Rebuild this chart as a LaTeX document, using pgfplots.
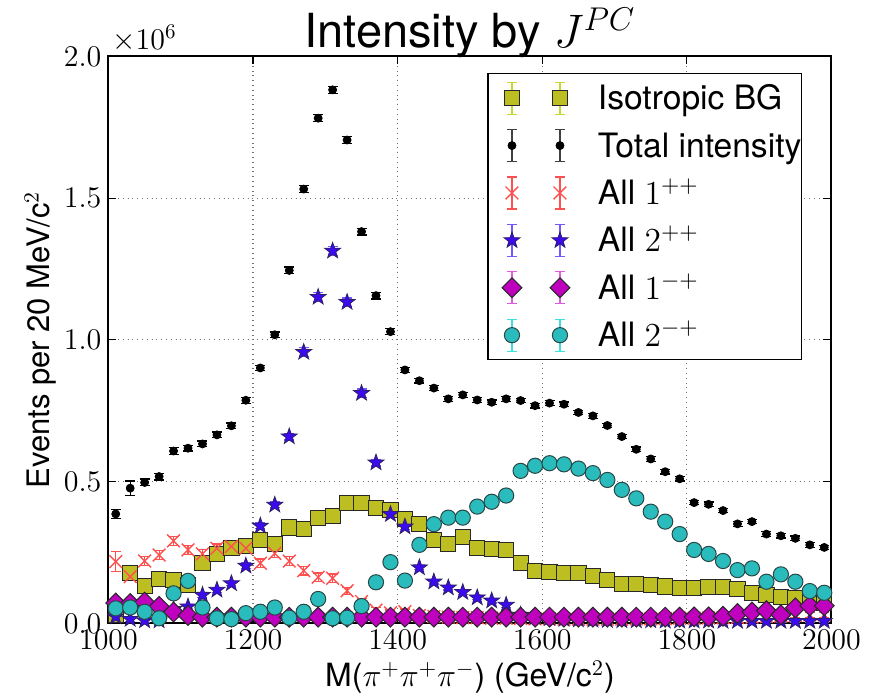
\RequirePackage{fix-cm}
\documentclass[border=0pt]{standalone}
\usepackage[no-math]{fontspec}
\setmainfont{TeX Gyre Heros}
\usepackage{pgfplots}
\usepackage{pgfplotstable}
\pgfplotsset{compat=1.18}

\definecolor{bgfill}{RGB}{188,190,34}
\definecolor{bgerr}{RGB}{200,212,50}
\definecolor{onepp}{RGB}{255,80,80}
\definecolor{twopp}{RGB}{60,10,240}
\definecolor{twopperr}{RGB}{110,90,255}
\definecolor{onemp}{RGB}{191,0,191}
\definecolor{onemperr}{RGB}{225,90,225}
\definecolor{twomp}{RGB}{42,188,188}
\definecolor{twomperr}{RGB}{60,222,222}
\definecolor{edge}{RGB}{40,40,40}

\pgfdeclareplotmark{fstar}{%
  \pgfpathmoveto{\pgfpointpolar{90}{\pgfplotmarksize}}%
  \pgfpathlineto{\pgfpointpolar{126}{0.4\pgfplotmarksize}}%
  \pgfpathlineto{\pgfpointpolar{162}{\pgfplotmarksize}}%
  \pgfpathlineto{\pgfpointpolar{198}{0.4\pgfplotmarksize}}%
  \pgfpathlineto{\pgfpointpolar{234}{\pgfplotmarksize}}%
  \pgfpathlineto{\pgfpointpolar{270}{0.4\pgfplotmarksize}}%
  \pgfpathlineto{\pgfpointpolar{306}{\pgfplotmarksize}}%
  \pgfpathlineto{\pgfpointpolar{342}{0.4\pgfplotmarksize}}%
  \pgfpathlineto{\pgfpointpolar{18}{\pgfplotmarksize}}%
  \pgfpathlineto{\pgfpointpolar{54}{0.4\pgfplotmarksize}}%
  \pgfpathclose
  \pgfusepathqfillstroke
}

\tikzset{
  bgmark/.style={color=bgerr, mark=square*, mark size=3.8pt, mark options={fill=bgfill, draw=edge, line width=0.5pt}},
  totmark/.style={color=black, mark=*, mark size=2pt, mark options={fill=black, draw=black, line width=0.4pt}},
  oneppmark/.style={color=onepp, mark=x, mark size=4.5pt, mark options={line width=0.7pt}},
  twoppmark/.style={color=twopperr, mark=fstar, mark size=4.2pt, mark options={fill=twopp, draw=edge!70!twopp, line width=0.4pt}},
  onempmark/.style={color=onemperr, mark=square*, mark size=3.5pt, mark options={rotate=45, fill=onemp, draw=edge, line width=0.5pt}},
  twompmark/.style={color=twomperr, mark=*, mark size=3.8pt, mark options={fill=twomp, draw=edge!80!twomp, line width=0.5pt}},
}

\pgfplotsset{
  errleg/.style 2 args={legend image code/.code={
     \path[draw=none, fill=none] (-12pt,-11.85pt) rectangle (43pt,11.85pt);
     \draw[#1, line width=0.6pt] (0pt,-8pt)--(0pt,8pt) (-2.5pt,-8pt)--(2.5pt,-8pt) (-2.5pt,8pt)--(2.5pt,8pt)
        (24pt,-8pt)--(24pt,8pt) (21.5pt,-8pt)--(26.5pt,-8pt) (21.5pt,8pt)--(26.5pt,8pt);
     \draw[#2] plot[only marks] coordinates {(0pt,0pt) (24pt,0pt)};
  }},
  myerr/.style={error bars/.cd, y dir=both, y explicit, error bar style={line width=0.6pt}, error mark options={rotate=90, mark size=2.5pt, line width=0.6pt}},
}

% values in units of 10^6 events
\pgfplotstableread{
x y e
1010 0.030 0.010
1030 0.177 0.010
1050 0.133 0.010
1070 0.156 0.010
1090 0.152 0.010
1110 0.135 0.010
1130 0.212 0.010
1150 0.245 0.010
1170 0.265 0.010
1190 0.274 0.010
1210 0.294 0.010
1230 0.280 0.010
1250 0.338 0.010
1270 0.333 0.010
1290 0.373 0.010
1310 0.378 0.010
1330 0.424 0.010
1350 0.424 0.010
1370 0.408 0.010
1390 0.400 0.010
1410 0.367 0.010
1430 0.351 0.010
1450 0.294 0.010
1470 0.280 0.010
1490 0.304 0.010
1510 0.265 0.010
1530 0.263 0.010
1550 0.259 0.010
1570 0.212 0.010
1590 0.186 0.010
1610 0.180 0.010
1630 0.179 0.010
1650 0.179 0.010
1670 0.167 0.010
1690 0.153 0.010
1710 0.139 0.010
1730 0.139 0.010
1750 0.135 0.010
1770 0.130 0.010
1790 0.124 0.010
1810 0.124 0.010
1830 0.127 0.010
1850 0.127 0.010
1870 0.120 0.010
1890 0.106 0.010
1910 0.100 0.010
1930 0.094 0.010
1950 0.088 0.010
1970 0.075 0.010
1990 0.072 0.010
}\bgtab

\pgfplotstableread{
x y e
1010 0.386 0.015
1030 0.477 0.025
1050 0.497 0.012
1070 0.518 0.012
1090 0.608 0.012
1110 0.618 0.010
1130 0.633 0.010
1150 0.665 0.010
1170 0.697 0.010
1190 0.787 0.010
1210 0.901 0.010
1230 1.018 0.010
1250 1.245 0.012
1270 1.532 0.012
1290 1.782 0.012
1310 1.882 0.012
1330 1.705 0.012
1350 1.382 0.012
1370 1.156 0.012
1390 1.029 0.010
1410 0.894 0.008
1430 0.856 0.008
1450 0.830 0.008
1470 0.792 0.008
1490 0.806 0.008
1510 0.788 0.008
1530 0.780 0.008
1550 0.792 0.008
1570 0.786 0.008
1590 0.768 0.008
1610 0.777 0.008
1630 0.773 0.008
1650 0.744 0.008
1670 0.732 0.008
1690 0.698 0.008
1710 0.659 0.008
1730 0.614 0.008
1750 0.580 0.008
1770 0.535 0.008
1790 0.510 0.008
1810 0.426 0.008
1830 0.420 0.008
1850 0.398 0.008
1870 0.351 0.008
1890 0.359 0.008
1910 0.315 0.008
1930 0.309 0.008
1950 0.300 0.008
1970 0.277 0.008
1990 0.268 0.008
}\tottab

\pgfplotstableread{
x y e
1010 0.218 0.035
1030 0.165 0.015
1050 0.220 0.015
1070 0.241 0.015
1090 0.291 0.015
1110 0.259 0.015
1130 0.245 0.015
1150 0.265 0.015
1170 0.271 0.015
1190 0.265 0.015
1210 0.212 0.015
1230 0.247 0.015
1250 0.220 0.015
1270 0.186 0.015
1290 0.163 0.015
1310 0.159 0.015
1330 0.115 0.012
1350 0.077 0.012
1370 0.047 0.010
1390 0.037 0.010
1410 0.041 0.010
1430 0.028 0.008
1450 0.024 0.008
1470 0.022 0.008
1490 0.020 0.008
1510 0.020 0.008
1530 0.018 0.008
1550 0.018 0.008
1570 0.017 0.008
1590 0.016 0.008
1610 0.016 0.008
1630 0.015 0.008
1650 0.015 0.008
1670 0.015 0.008
1690 0.015 0.008
1710 0.015 0.008
1730 0.016 0.008
1750 0.016 0.008
1770 0.017 0.008
1790 0.018 0.008
1810 0.018 0.008
1830 0.019 0.008
1850 0.020 0.008
1870 0.021 0.008
1890 0.022 0.008
1910 0.024 0.008
1930 0.026 0.008
1950 0.028 0.008
1970 0.030 0.008
1990 0.030 0.008
}\oneptab

\pgfplotstableread{
x y e
1010 0.024 0.008
1030 0.015 0.008
1050 0.010 0.008
1070 0.010 0.008
1090 0.050 0.008
1110 0.059 0.008
1130 0.100 0.008
1150 0.118 0.008
1170 0.141 0.008
1190 0.203 0.010
1210 0.344 0.010
1230 0.418 0.010
1250 0.659 0.012
1270 0.957 0.015
1290 1.151 0.015
1310 1.314 0.015
1330 1.133 0.015
1350 0.812 0.015
1370 0.567 0.012
1390 0.385 0.010
1410 0.341 0.010
1430 0.197 0.008
1450 0.147 0.008
1470 0.126 0.008
1490 0.110 0.008
1510 0.091 0.008
1530 0.080 0.008
1550 0.065 0.008
1570 0.030 0.006
1590 0.022 0.006
1610 0.018 0.006
1630 0.015 0.006
1650 0.013 0.006
1670 0.012 0.006
1690 0.011 0.006
1710 0.010 0.006
1730 0.010 0.006
1750 0.010 0.006
1770 0.009 0.006
1790 0.009 0.006
1810 0.009 0.006
1830 0.009 0.006
1850 0.008 0.006
1870 0.008 0.006
1890 0.008 0.006
1910 0.008 0.006
1930 0.008 0.006
1950 0.008 0.006
1970 0.008 0.006
1990 0.008 0.006
}\twoptab

\pgfplotstableread{
x y e
1010 0.072 0.008
1030 0.070 0.008
1050 0.075 0.008
1070 0.060 0.008
1090 0.040 0.008
1110 0.028 0.008
1130 0.022 0.008
1150 0.022 0.008
1170 0.022 0.008
1190 0.022 0.008
1210 0.022 0.008
1230 0.022 0.008
1250 0.022 0.008
1270 0.022 0.008
1290 0.022 0.008
1310 0.022 0.008
1330 0.022 0.008
1350 0.022 0.008
1370 0.022 0.008
1390 0.022 0.008
1410 0.022 0.008
1430 0.022 0.008
1450 0.022 0.008
1470 0.022 0.008
1490 0.022 0.008
1510 0.022 0.008
1530 0.022 0.008
1550 0.022 0.008
1570 0.022 0.008
1590 0.022 0.008
1610 0.022 0.008
1630 0.022 0.008
1650 0.022 0.008
1670 0.022 0.008
1690 0.022 0.008
1710 0.022 0.008
1730 0.022 0.008
1750 0.022 0.008
1770 0.022 0.008
1790 0.022 0.008
1810 0.023 0.008
1830 0.023 0.008
1850 0.025 0.008
1870 0.035 0.008
1890 0.040 0.008
1910 0.045 0.008
1930 0.030 0.008
1950 0.055 0.008
1970 0.062 0.008
1990 0.062 0.008
}\onemtab

\pgfplotstableread{
x y e
1010 0.053 0.008
1030 0.056 0.008
1050 0.041 0.008
1070 0.018 0.008
1090 0.106 0.008
1110 0.150 0.008
1130 0.056 0.008
1150 0.018 0.008
1170 0.015 0.008
1190 0.036 0.008
1210 0.041 0.008
1230 0.056 0.008
1250 0.020 0.008
1270 0.041 0.008
1290 0.086 0.008
1310 0.018 0.008
1330 0.020 0.008
1350 0.061 0.008
1370 0.145 0.008
1390 0.216 0.008
1410 0.151 0.008
1430 0.277 0.008
1450 0.350 0.008
1470 0.373 0.008
1490 0.373 0.008
1510 0.412 0.008
1530 0.429 0.008
1550 0.451 0.008
1570 0.538 0.008
1590 0.556 0.008
1610 0.565 0.008
1630 0.561 0.008
1650 0.546 0.008
1670 0.530 0.008
1690 0.506 0.008
1710 0.471 0.008
1730 0.441 0.008
1750 0.394 0.008
1770 0.359 0.008
1790 0.315 0.008
1810 0.259 0.008
1830 0.245 0.008
1850 0.220 0.008
1870 0.188 0.008
1890 0.194 0.008
1910 0.147 0.008
1930 0.173 0.008
1950 0.147 0.008
1970 0.114 0.008
1990 0.108 0.008
}\twomtab

\begin{document}
\begin{tikzpicture}
\begin{axis}[
  name=ax,
  at={(0,0)}, anchor=south west,
  width=361.5pt, height=283.5pt, scale only axis,
  xmin=1000, xmax=2000, ymin=0, ymax=2.0,
  xtick={1000,1200,1400,1600,1800,2000},
  ytick={0,0.5,1,1.5,2},
  scaled x ticks=false, scaled y ticks=false,
  xticklabel style={/pgf/number format/1000 sep=},
  yticklabel style={/pgf/number format/.cd, fixed, fixed zerofill, precision=1},
  tick label style={font=\fontsize{15}{18}\selectfont, black},
  tick align=inside, major tick length=4pt,
  every tick/.style={black, line width=0.6pt},
  grid=major, major grid style={dotted, line width=0.6pt, black!55},
  axis line style={line width=1pt, black},
  xlabel={M($\pi^+\pi^+\pi^-$) (GeV/c$^2$)},
  xlabel style={at={(axis description cs:0.5,-0.11217)}, anchor=base, font=\fontsize{16}{19}\selectfont},
  ylabel={Events per 20 MeV/c$^2$},
  ylabel style={at={(axis description cs:-0.08091,0.5)}, anchor=base, font=\fontsize{15.5}{18}\selectfont},
  legend cell align=left,
  legend style={at={(axis description cs:0.9592,0.9709)}, anchor=north east, draw=black, line width=0.6pt,
    inner xsep=0pt, inner ysep=0.5pt, row sep=0pt, column sep=0pt,
    font=\fontsize{16.8}{20}\selectfont,
    nodes={draw=none, inner xsep=0pt, inner ysep=0pt, text height=12pt, text depth=0.5pt, anchor=west}},
]
\addplot[bgmark, only marks, errleg={bgerr}{bgmark}, myerr] table[x=x, y=y, y error=e] {\bgtab};
\addlegendentry{Isotropic BG}
\addplot[totmark, only marks, errleg={black!75}{totmark}, myerr] table[x=x, y=y, y error=e] {\tottab};
\addlegendentry{Total intensity}
\addplot[oneppmark, only marks, errleg={onepp}{oneppmark}, myerr] table[x=x, y=y, y error=e] {\oneptab};
\addlegendentry{All $1^{++}$}
\addplot[twoppmark, only marks, errleg={twopperr}{twoppmark}, myerr] table[x=x, y=y, y error=e] {\twoptab};
\addlegendentry{All $2^{++}$}
\addplot[onempmark, only marks, errleg={onemperr}{onempmark}, myerr] table[x=x, y=y, y error=e] {\onemtab};
\addlegendentry{All $1^{-+}$}
\addplot[twompmark, only marks, errleg={twomperr}{twompmark}, myerr] table[x=x, y=y, y error=e] {\twomtab};
\addlegendentry{All $2^{-+}$}
\end{axis}
\node[anchor=base, inner sep=0pt, font=\fontsize{23.5}{28}\selectfont] at ([yshift=4.2pt]ax.north) {Intensity by $J^{PC}$};
\node[anchor=base west, inner sep=0pt, font=\fontsize{15}{18}\selectfont] at ([xshift=1.75pt, yshift=3.25pt]ax.north west) {$\times10^{6}$};
\pgfresetboundingbox
\path[use as bounding box] (-54.25pt,-37.8pt) rectangle (385.75pt,311.7pt);
\end{tikzpicture}
\end{document}
